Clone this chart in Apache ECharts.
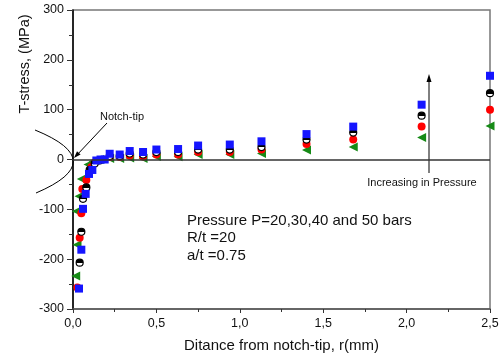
<!DOCTYPE html>
<html>
<head>
<meta charset="utf-8">
<script src="https://cdn.jsdelivr.net/npm/echarts@6/dist/echarts.min.js"></script>
<style>
html,body{margin:0;padding:0;background:#fff;}
#chart{width:502px;height:358px;}
</style>
</head>
<body>
<div id="chart"></div>
<script>
// ---- data ----
var xTickLabels = ['0,0', '0,5', '1,0', '1,5', '2,0', '2,5'];
var yTickValues = [-300, -200, -100, 0, 100, 200, 300];

// P = 50 bars (blue squares)
var p50X = [0.036, 0.05, 0.06, 0.076, 0.096, 0.116, 0.14, 0.165, 0.19, 0.22, 0.28, 0.34, 0.42, 0.50, 0.63, 0.75, 0.94, 1.13, 1.40, 1.68, 2.09, 2.50];
var p50Y = [-259, -181, -99, -69, -29, -21, -2, 0, 0, 11.5, 10, 17, 15, 20, 21, 28, 30, 36.5, 51, 66, 110, 168];
// P = 40 bars (black half-filled circles)
var p40X = [0.04, 0.05, 0.06, 0.08, 0.10, 0.13, 0.16, 0.22, 0.28, 0.34, 0.42, 0.50, 0.63, 0.75, 0.94, 1.13, 1.40, 1.68, 2.09, 2.50];
var p40Y = [-207, -145, -79, -56, -21, -8, -2, 7, 7, 12, 10, 15, 15, 20, 20, 25, 40, 54, 88, 133];
// P = 30 bars (red circles)
var p30X = [0.026, 0.04, 0.05, 0.056, 0.08, 0.11, 0.13, 0.16, 0.22, 0.28, 0.34, 0.42, 0.50, 0.63, 0.75, 0.94, 1.13, 1.40, 1.68, 2.09, 2.50];
var p30Y = [-257, -157, -108, -59, -41, -15, -6, -1, 5, 5, 8, 6, 10, 10, 15, 15, 20, 31, 40, 66, 100];
// P = 20 bars (green left triangles)
var p20X = [0.016, 0.024, 0.02, 0.036, 0.05, 0.09, 0.12, 0.16, 0.22, 0.28, 0.34, 0.42, 0.50, 0.63, 0.75, 0.94, 1.13, 1.40, 1.68, 2.09, 2.50];
var p20Y = [-234, -171, -104, -73.5, -39, -10, -4, 0, 2, 2, 3, 2, 6, 5.5, 10, 10, 12, 19, 25, 44, 67];

function pairs(xs, ys) { return xs.map(function (x, i) { return [x, ys[i]]; }); }

var FONT = '"Liberation Sans", Arial, sans-serif';
var chart = echarts.init(document.getElementById('chart'), null, {renderer: 'canvas'});

var halfFill = {
  type: 'linear', x: 0, y: 0, x2: 0, y2: 1,
  colorStops: [
    {offset: 0, color: '#000'}, {offset: 0.55, color: '#000'},
    {offset: 0.55, color: '#fff'}, {offset: 1, color: '#fff'}
  ]
};

var option = {
  animation: false,
  backgroundColor: '#fff',
  grid: {left: 73, right: 12, top: 10, bottom: 44, show: true, borderColor: '#777', borderWidth: 1.5, backgroundColor: 'transparent'},
  xAxis: {
    type: 'value', min: 0, max: 2.5, interval: 0.5,
    axisLine: {onZero: false, lineStyle: {color: '#555', width: 1.5}},
    axisTick: {show: true, inside: false, length: 4, lineStyle: {color: '#333'}},
    minorTick: {show: true, splitNumber: 2, length: 3, lineStyle: {color: '#333'}},
    splitLine: {show: false},
    axisLabel: {
      color: '#111', fontSize: 12.5, fontFamily: FONT, margin: 8,
      formatter: function (v) { return xTickLabels[Math.round(v / 0.5)]; }
    },
    name: 'Ditance from notch-tip, r(mm)', nameLocation: 'middle', nameGap: 29,
    nameTextStyle: {color: '#111', fontSize: 15, fontFamily: FONT}
  },
  yAxis: {
    type: 'value', min: -300, max: 300, interval: 100,
    axisLine: {onZero: false, lineStyle: {color: '#000', width: 1.5}},
    axisTick: {show: true, inside: false, length: 6, lineStyle: {color: '#333'}},
    minorTick: {show: true, splitNumber: 2, length: 4, lineStyle: {color: '#333'}},
    splitLine: {show: false},
    axisLabel: {color: '#111', fontSize: 12.5, fontFamily: FONT, margin: 9,
      formatter: function (v) { return yTickValues.indexOf(v) >= 0 ? String(v) : ''; }}
  },
  series: [
    {
      name: '20 bars', type: 'scatter', data: pairs(p20X, p20Y),
      symbol: 'triangle', symbolRotate: 90, symbolSize: 9,
      itemStyle: {color: '#168a16', opacity: 1},
      markLine: {
        silent: true, symbol: 'none', label: {show: false},
        lineStyle: {color: '#333', type: 'solid', width: 1.5},
        data: [{yAxis: 0}]
      }
    },
    {
      name: '30 bars', type: 'scatter', data: pairs(p30X, p30Y),
      symbol: 'circle', symbolSize: 8,
      itemStyle: {color: '#ff0000', opacity: 1}
    },
    {
      name: '40 bars', type: 'scatter', data: pairs(p40X, p40Y),
      symbol: 'circle', symbolSize: 7,
      itemStyle: {color: halfFill, borderColor: '#000', borderWidth: 1.2, opacity: 1}
    },
    {
      name: '50 bars', type: 'scatter', data: pairs(p50X, p50Y),
      symbol: 'rect', symbolSize: 8,
      itemStyle: {color: '#1515ff', opacity: 1}
    }
  ],
  graphic: [
    {type: 'text', x: 25, y: 64, rotation: Math.PI / 2,
      style: {text: 'T-stress, (MPa)', font: '14.5px ' + FONT, fill: '#111', align: 'center', verticalAlign: 'middle'}},
    // notch sketch
    {type: 'bezierCurve', shape: {x1: 35, y1: 130, cpx1: 111, cpy1: 161, x2: 36, y2: 193},
      style: {stroke: '#000', lineWidth: 1, fill: null}},
    {type: 'line', shape: {x1: 107, y1: 123, x2: 76, y2: 156}, style: {stroke: '#000', lineWidth: 1}},
    {type: 'polygon', shape: {points: [[74, 158], [80.6, 154.6], [77.0, 151.2]]}, style: {fill: '#000'}},
    {type: 'text', x: 100, y: 117,
      style: {text: 'Notch-tip', font: '11px ' + FONT, fill: '#111', verticalAlign: 'middle'}},
    // increasing pressure arrow
    {type: 'line', shape: {x1: 429, y1: 173, x2: 429, y2: 80}, style: {stroke: '#000', lineWidth: 1}},
    {type: 'polygon', shape: {points: [[429, 74], [426.5, 82], [431.5, 82]]}, style: {fill: '#000'}},
    {type: 'text', x: 422, y: 183,
      style: {text: 'Increasing in Pressure', font: '11px ' + FONT, fill: '#111', align: 'center', verticalAlign: 'middle'}},
    // parameter block
    {type: 'text', x: 187, y: 212,
      style: {text: 'Pressure P=20,30,40 and 50 bars\nR/t =20\na/t =0.75', font: '15px ' + FONT, lineHeight: 17.5, fill: '#111', verticalAlign: 'top'}}
  ]
};
chart.setOption(option);
</script>
</body>
</html>
